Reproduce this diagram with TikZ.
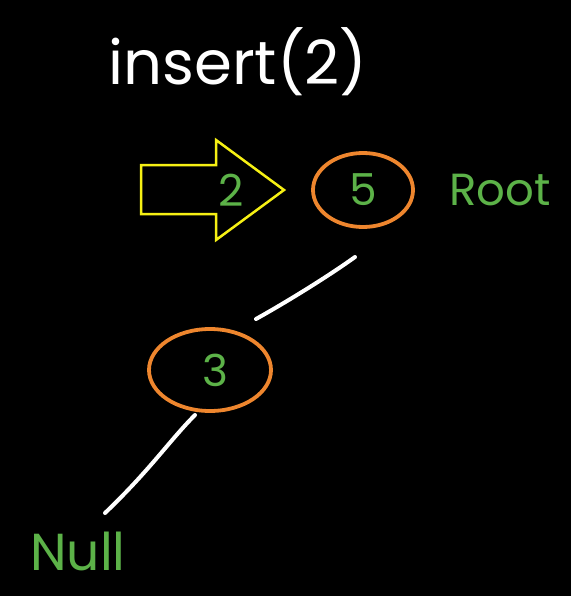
\documentclass[tikz,border=0pt]{standalone}
\usepackage{fontspec}
\setmainfont{Poppins}
\usetikzlibrary{positioning,shapes.geometric}
\definecolor{inkgreen}{RGB}{92,178,72}
\definecolor{inkorange}{RGB}{238,134,46}
\definecolor{inkyellow}{RGB}{246,240,20}

\begin{document}
\begin{tikzpicture}[x=1pt, y=-1pt]
		\fill[black] (0,0) rectangle (571,596);
		\useasboundingbox (0,0) rectangle (571,596);

		\tikzstyle{every node} = [inner sep=0pt, text=inkgreen]
		\tikzstyle{key} = [draw=inkorange, line width=3.8pt, ellipse, minimum width=100pt, minimum height=74pt]
		\tikzstyle{digit} = [font=\fontsize{44}{44}\selectfont]
		\tikzstyle{tag} = [font=\fontsize{52}{52}\selectfont]
		\tikzstyle{edge} = [draw=white, line width=4pt, line cap=round]

		\node (title) at (238,62) [text=white, font=\fontsize{61}{61}\selectfont] {insert(2)};

		% the value to insert
		\draw[inkyellow, line width=2.5pt, line join=miter]
			(141,165) -- (216,165) -- (216,140) -- (284,190) -- (216,240) -- (216,214) -- (141,214) -- cycle;
		\node (new) at (231,190) [digit] {2};

		% the tree
		\node (five) at (363,190) [key] {};
		\node at (five) [digit] {5};
		\node (root) [right=34pt of five, tag, font=\fontsize{45}{45}\selectfont] {Root};

		\node (three) at (210,370) [key, minimum width=122pt, minimum height=82pt] {};
		\node at ([xshift=5pt]three) [digit] {3};

		\node (null) at (78,551) [tag] {Null};

		\coordinate (a) at ([shift={(-8,67)}]five.center);
		\coordinate (b) at ([shift={(46,-51)}]three.center);
		\coordinate (c) at ([shift={(-15,45)}]three.center);
		\coordinate (d) at ([shift={(27,-38)}]null.center);

		\draw[edge] (a) .. controls (330,275) and (290,300) .. (b);
		\draw[edge] (c) .. controls (170,440) and (150,470) .. (d);
\end{tikzpicture}
\end{document}
